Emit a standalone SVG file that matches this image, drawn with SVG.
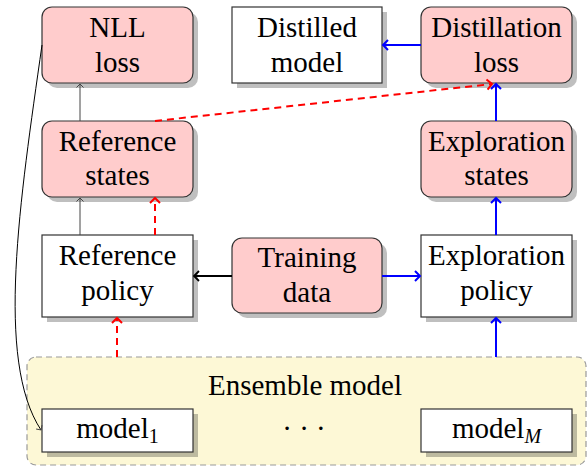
<svg xmlns="http://www.w3.org/2000/svg" width="587" height="466" viewBox="0 0 587 466" font-family="'Liberation Serif', 'Times New Roman', serif">
<style>
text{font-family:'Liberation Serif','Times New Roman',serif;font-size:29px;fill:#000;text-anchor:middle}
.pk{fill:#ffcccc;stroke:#333;stroke-width:1.2}
.wh{fill:#fff;stroke:#333;stroke-width:1.2}
.sh{fill:#000;fill-opacity:0.25}
.blue{stroke:#0000ff;stroke-width:2;fill:none}
.red{stroke:#ff0000;stroke-width:2;fill:none;stroke-dasharray:7 5}
.gry{stroke:#444;stroke-width:1;fill:none}
.blk{stroke:#000;stroke-width:1.8;fill:none}
</style>
<defs>
<marker id="ab" markerUnits="userSpaceOnUse" markerWidth="14" markerHeight="14" refX="7" refY="7" orient="auto" overflow="visible"><path d="M2,2 L7,7 L2,12" fill="none" stroke="#0000ff" stroke-width="2"/></marker>
<marker id="ar" markerUnits="userSpaceOnUse" markerWidth="14" markerHeight="14" refX="7" refY="7" orient="auto" overflow="visible"><path d="M2,2 L7,7 L2,12" fill="none" stroke="#ff0000" stroke-width="2"/></marker>
<marker id="ak" markerUnits="userSpaceOnUse" markerWidth="14" markerHeight="14" refX="7" refY="7" orient="auto" overflow="visible"><path d="M2,2 L7,7 L2,12" fill="none" stroke="#000" stroke-width="1.8"/></marker>
<marker id="ag" markerUnits="userSpaceOnUse" markerWidth="12" markerHeight="12" refX="6" refY="6" orient="auto" overflow="visible"><path d="M2.5,2.5 L6,6 L2.5,9.5" fill="none" stroke="#444" stroke-width="1"/></marker>
</defs>

<g id="ensemble">
<rect x="27" y="357" width="559" height="108" rx="9" fill="#fdf8d6" stroke="#999" stroke-width="1.2" stroke-dasharray="6 4"/>
<text x="305" y="395" font-family="Liberation Serif">Ensemble model</text>
<text x="304" y="438" font-family="Liberation Serif">· · ·</text>
</g>

<g id="nll">
<rect class="sh" x="47" y="12" width="151" height="76" rx="10"/>
<rect class="pk" x="42" y="7" width="151" height="76" rx="10"/>
<text x="117.5" y="37" font-family="Liberation Serif">NLL</text><text x="117.5" y="72" font-family="Liberation Serif">loss</text>
</g>
<g id="distilled">
<rect class="sh" x="237" y="12" width="150" height="76"/>
<rect class="wh" x="232" y="7" width="150" height="76"/>
<text x="307" y="37" font-family="Liberation Serif">Distilled</text><text x="307" y="72" font-family="Liberation Serif">model</text>
</g>
<g id="distloss">
<rect class="sh" x="426" y="12" width="151" height="76" rx="10"/>
<rect class="pk" x="421" y="7" width="151" height="76" rx="10"/>
<text x="496.5" y="37" font-family="Liberation Serif">Distillation</text><text x="496.5" y="72" font-family="Liberation Serif">loss</text>
</g>
<g id="refstates">
<rect class="sh" x="47" y="126" width="151" height="76" rx="10"/>
<rect class="pk" x="42" y="121" width="151" height="76" rx="10"/>
<text x="117.5" y="151" font-family="Liberation Serif">Reference</text><text x="117.5" y="185" font-family="Liberation Serif">states</text>
</g>
<g id="expstates">
<rect class="sh" x="426" y="126" width="151" height="76" rx="10"/>
<rect class="pk" x="421" y="121" width="151" height="76" rx="10"/>
<text x="496.5" y="151" font-family="Liberation Serif">Exploration</text><text x="496.5" y="185" font-family="Liberation Serif">states</text>
</g>
<g id="refpolicy">
<rect class="sh" x="47" y="240" width="151" height="82"/>
<rect class="wh" x="42" y="235" width="151" height="82"/>
<text x="117.5" y="265" font-family="Liberation Serif">Reference</text><text x="117.5" y="300" font-family="Liberation Serif">policy</text>
</g>
<g id="training">
<rect class="sh" x="237" y="243" width="150" height="75" rx="10"/>
<rect class="pk" x="232" y="238" width="150" height="75" rx="10"/>
<text x="307" y="267" font-family="Liberation Serif">Training</text><text x="307" y="302" font-family="Liberation Serif">data</text>
</g>
<g id="exppolicy">
<rect class="sh" x="426" y="240" width="151" height="82"/>
<rect class="wh" x="421" y="235" width="151" height="82"/>
<text x="496.5" y="265" font-family="Liberation Serif">Exploration</text><text x="496.5" y="300" font-family="Liberation Serif">policy</text>
</g>
<g id="model1">
<rect class="sh" x="47" y="414" width="151" height="43"/>
<rect class="wh" x="42" y="409" width="151" height="43"/>
<text x="117.5" y="438" font-family="Liberation Serif">model<tspan font-size="20" dy="5">1</tspan></text>
</g>
<g id="modelM">
<rect class="sh" x="426" y="414" width="151" height="43"/>
<rect class="wh" x="421" y="409" width="151" height="43"/>
<text x="496.5" y="438" font-family="Liberation Serif">model<tspan font-size="20" dy="5" font-style="italic">M</tspan></text>
</g>

<g id="connectors">
<line class="gry" x1="80" y1="121" x2="80" y2="84" marker-end="url(#ag)"/>
<line class="gry" x1="80" y1="235" x2="80" y2="198" marker-end="url(#ag)"/>
<line class="red" x1="155" y1="235" x2="155" y2="198" marker-end="url(#ar)"/>
<line class="red" x1="117" y1="357" x2="117" y2="318" marker-end="url(#ar)"/>
<line class="red" x1="155" y1="121" x2="492" y2="84" marker-end="url(#ar)"/>
<line class="blk" x1="232" y1="276" x2="194" y2="276" marker-end="url(#ak)"/>
<line class="blue" x1="382" y1="276" x2="420" y2="276" marker-end="url(#ab)"/>
<line class="blue" x1="496" y1="357" x2="496" y2="318" marker-end="url(#ab)"/>
<line class="blue" x1="496" y1="235" x2="496" y2="198" marker-end="url(#ab)"/>
<line class="blue" x1="496" y1="121" x2="496" y2="84" marker-end="url(#ab)"/>
<line class="blue" x1="421" y1="45" x2="383" y2="45" marker-end="url(#ab)"/>
<path d="M42,45 C20,200 -5,360 41,430" stroke="#000" stroke-width="1" fill="none" marker-end="url(#ag)"/>
</g>
</svg>
